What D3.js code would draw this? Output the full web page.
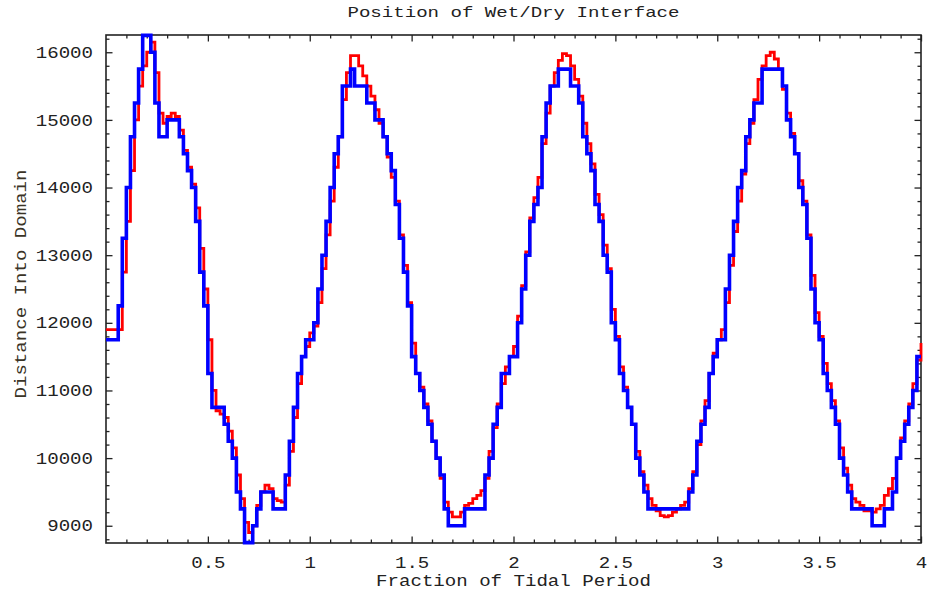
<!DOCTYPE html>
<html>
<head>
<meta charset="utf-8">
<script src="https://cdn.jsdelivr.net/npm/d3@7"></script>
<style>
  body { margin: 0; background: #fff; }
  svg { display: block; }
</style>
</head>
<body>
<svg id="chart" width="927" height="594"></svg>
<script>
// ---- data -----------------------------------------------------------
// Output sampled every 0.02 of a tidal period, over four periods.
const sampleStep = 0.02;

// Fine-grid model (red)
const fineSeries = [
  11900,11900,11900,11900,12750,13500,14250,15000,15500,15800,
  16000,16150,15700,15100,14950,15050,15100,15050,14850,14550,
  14300,14050,13700,13100,12500,11750,11000,10700,10650,10600,
  10400,10150,9750,9400,9050,8900,9000,9300,9500,9600,
  9550,9400,9370,9350,9600,10100,10600,11100,11500,11650,
  11850,11950,12300,12800,13300,13800,14300,14750,15300,15700,
  15950,15950,15800,15650,15500,15350,15150,14950,14750,14450,
  14150,13800,13300,12850,12300,11700,11250,11050,10800,10550,
  10250,10000,9700,9350,9200,9130,9130,9200,9300,9330,
  9400,9450,9520,9700,10100,10450,10800,11100,11350,11500,
  11650,12100,12550,13050,13550,13850,14150,14650,15100,15500,
  15700,15880,15980,15950,15800,15600,15350,14950,14650,14350,
  13900,13600,13150,12800,12200,11800,11350,11050,10750,10500,
  10100,9800,9600,9400,9300,9220,9150,9130,9150,9200,
  9250,9300,9350,9550,9800,10200,10550,10850,11250,11550,
  11750,11900,12300,12850,13350,13800,14200,14650,14950,15300,
  15600,15800,15950,16000,15900,15750,15450,15100,14800,14500,
  14100,13800,13300,12700,12150,11800,11400,11100,10850,10550,
  10150,9850,9600,9400,9350,9300,9220,9220,9200,9250,
  9300,9450,9550,9700,10000,10300,10550,10800,11100,11450,
  11700
];

// Coarse-grid model (blue), positions snap to 250-unit cells
const coarseSeries = [
  11750,11750,11750,12250,13250,14000,14750,15250,15750,16250,
  16250,16000,15250,14750,14750,15000,15000,15000,14750,14500,
  14250,14000,13500,12750,12250,11250,10750,10750,10750,10500,
  10250,10000,9500,9250,8750,8750,9000,9250,9500,9500,
  9500,9250,9250,9250,9750,10250,10750,11250,11500,11750,
  11750,12000,12500,13000,13500,14000,14500,14750,15500,15500,
  15750,15500,15500,15500,15250,15250,15000,15000,14750,14500,
  14250,13750,13250,12750,12250,11500,11250,11000,10750,10500,
  10250,10000,9750,9250,9000,9000,9000,9000,9250,9250,
  9250,9250,9250,9750,10000,10500,10750,11250,11250,11500,
  11500,12000,12500,13000,13500,13750,14000,14750,15250,15500,
  15500,15750,15750,15750,15500,15500,15250,14750,14500,14250,
  13750,13500,13000,12750,12000,11750,11250,11000,10750,10500,
  10000,9750,9500,9250,9250,9250,9250,9250,9250,9250,
  9250,9250,9250,9500,9750,10250,10500,10750,11250,11500,
  11750,11750,12500,13000,13500,14000,14250,14750,15000,15250,
  15250,15750,15750,15750,15750,15750,15500,15000,14750,14500,
  14000,13750,13250,12500,12000,11750,11250,11000,10750,10500,
  10000,9750,9500,9250,9250,9250,9250,9250,9000,9000,
  9000,9250,9250,9500,10000,10250,10500,10750,11000,11500,
  11500
];

const xTickValues = [0.5, 1, 1.5, 2, 2.5, 3, 3.5, 4];
const xTickLabels = ["0.5", "1", "1.5", "2", "2.5", "3", "3.5", "4"];
const yTickValues = [9000, 10000, 11000, 12000, 13000, 14000, 15000, 16000];
const yTickLabels = ["9000", "10000", "11000", "12000", "13000", "14000", "15000", "16000"];

const titleText = "Position of Wet/Dry Interface";
const xTitle = "Fraction of Tidal Period";
const yTitle = "Distance Into Domain";

// ---- layout ---------------------------------------------------------
const plot = { left: 106, right: 921, top: 35, bottom: 543 };
const FONT = "'Courier New', 'Liberation Mono', 'DejaVu Sans Mono', monospace";
const CHAR_W = 11.45;    // horizontal advance per character
const INK = "#222";

const svg = d3.select("#chart");

const x = d3.scaleLinear().domain([0, 4]).range([plot.left, plot.right]);
const y = d3.scaleLinear().domain([8745, 16255]).range([plot.bottom, plot.top]);

function stretch(sel) {
  sel.each(function () {
    const t = d3.select(this);
    const n = t.text().length;
    t.attr("textLength", n * CHAR_W).attr("lengthAdjust", "spacingAndGlyphs");
  });
}

// frame
svg.append("rect")
  .attr("x", plot.left).attr("y", plot.top)
  .attr("width", plot.right - plot.left).attr("height", plot.bottom - plot.top)
  .attr("fill", "none").attr("stroke", INK).attr("stroke-width", 1.6);

// minor tick positions
const xMinor = d3.range(1, 40).map(i => i / 10).filter(v => Math.abs(v * 2 - Math.round(v * 2)) > 1e-6);
const yMinor = d3.range(8800, 16201, 200).filter(v => v % 1000 !== 0);

function styleTicks(g) {
  g.select(".domain").remove();
  g.selectAll(".tick line").attr("stroke", INK).attr("stroke-width", 1.3);
}

// bottom
svg.append("g").attr("transform", `translate(0,${plot.bottom})`)
  .call(d3.axisBottom(x).tickValues(xMinor).tickSize(-3.5).tickFormat(""))
  .call(styleTicks);
const gxb = svg.append("g").attr("transform", `translate(0,${plot.bottom})`)
  .call(d3.axisBottom(x).tickValues(xTickValues).tickSize(-6.5).tickPadding(14)
        .tickFormat((d, i) => xTickLabels[i]))
  .call(styleTicks);
// top
svg.append("g").attr("transform", `translate(0,${plot.top})`)
  .call(d3.axisTop(x).tickValues(xMinor).tickSize(-3.5).tickFormat(""))
  .call(styleTicks);
svg.append("g").attr("transform", `translate(0,${plot.top})`)
  .call(d3.axisTop(x).tickValues(xTickValues).tickSize(-6.5).tickFormat(""))
  .call(styleTicks);
// left
svg.append("g").attr("transform", `translate(${plot.left},0)`)
  .call(d3.axisLeft(y).tickValues(yMinor).tickSize(-3.5).tickFormat(""))
  .call(styleTicks);
const gyl = svg.append("g").attr("transform", `translate(${plot.left},0)`)
  .call(d3.axisLeft(y).tickValues(yTickValues).tickSize(-6.5).tickPadding(13)
        .tickFormat((d, i) => yTickLabels[i]))
  .call(styleTicks);
// right
svg.append("g").attr("transform", `translate(${plot.right},0)`)
  .call(d3.axisRight(y).tickValues(yMinor).tickSize(-3.5).tickFormat(""))
  .call(styleTicks);
svg.append("g").attr("transform", `translate(${plot.right},0)`)
  .call(d3.axisRight(y).tickValues(yTickValues).tickSize(-6.5).tickFormat(""))
  .call(styleTicks);

[gxb, gyl].forEach(g => {
  g.selectAll(".tick text")
    .attr("font-family", FONT).attr("font-size", 16).attr("fill", INK)
    .call(stretch);
});

// ---- series ---------------------------------------------------------
const line = d3.line()
  .x((d, i) => x(i * sampleStep))
  .y(d => y(d))
  .curve(d3.curveStepAfter);

svg.append("path")
  .datum(fineSeries)
  .attr("d", line)
  .attr("fill", "none").attr("stroke", "#ff0000")
  .attr("stroke-width", 2.8).attr("stroke-linejoin", "miter");

svg.append("path")
  .datum(coarseSeries)
  .attr("d", line)
  .attr("fill", "none").attr("stroke", "#0000ff")
  .attr("stroke-width", 3.6).attr("stroke-linejoin", "miter");

// ---- titles ---------------------------------------------------------
svg.append("text")
  .attr("x", (plot.left + plot.right) / 2).attr("y", 17)
  .attr("text-anchor", "middle")
  .attr("font-family", FONT).attr("font-size", 15).attr("fill", INK)
  .text(titleText).call(stretch);

svg.append("text")
  .attr("x", (plot.left + plot.right) / 2).attr("y", 586)
  .attr("text-anchor", "middle")
  .attr("font-family", FONT).attr("font-size", 16).attr("fill", INK)
  .text(xTitle).call(stretch);

svg.append("text")
  .attr("transform", "translate(26,284) rotate(-90)")
  .attr("text-anchor", "middle")
  .attr("font-family", FONT).attr("font-size", 16).attr("fill", "#3a3326")
  .text(yTitle).call(stretch);
</script>
</body>
</html>
